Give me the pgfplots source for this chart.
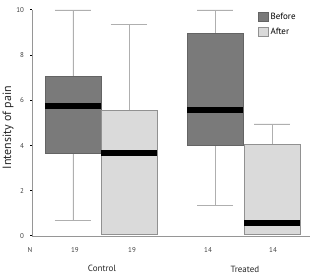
\documentclass[border=0pt]{standalone}
\usepackage{pgfplots}
\pgfplotsset{compat=1.18}
\usepgfplotslibrary{statistics}
\usepackage{fontspec}
\setmainfont{PT Sans}
\definecolor{darkbox}{RGB}{122,122,122}
\definecolor{darkedge}{RGB}{100,100,100}
\definecolor{lightbox}{RGB}{218,218,218}
\definecolor{lightedge}{RGB}{145,145,145}
\definecolor{whisk}{RGB}{175,175,175}
\definecolor{axgray}{RGB}{150,150,150}
\begin{document}
\begin{tikzpicture}
\path[use as bounding box] (0,0) rectangle (311pt,276pt);
\begin{axis}[
  at={(32pt,40pt)}, anchor=south west,
  scale only axis, width=278pt, height=226pt,
  xmin=0, xmax=278, ymin=0, ymax=10,
  clip=false,
  axis x line=bottom, axis y line=left,
  axis line style={-, axgray, line width=0.6pt},
  xtick=\empty,
  ytick={0,2,4,6,8,10},
  tick align=outside, major tick length=1.5pt,
  tick style={black, line width=1pt},
  yticklabel style={font=\scriptsize, xshift=-3pt, text=black!75},
  /pgf/number format/assume math mode=true,
  ylabel={Intensity of pain},
  ylabel style={font=\fontsize{12}{14}\selectfont, text=black!85,
    at={(axis description cs:-0.086,0.48)}, anchor=center},
  legend style={at={(rel axis cs:0.812,0.995)}, anchor=north west, draw=none, fill=none,
    font=\small, row sep=3pt, inner sep=0pt},
  legend cell align=left,
  legend image code/.code={\fill[#1] (0pt,-4.5pt) rectangle (10pt,4.5pt);},
  boxplot/draw direction=y,
  boxplot/box extend=56,
  boxplot/whisker extend=36,
  boxplot/every whisker/.style={whisk, line width=0.7pt},
  boxplot/every median/.style={black, line width=6pt},
]
% Control, before
\addplot+[boxplot prepared={lower whisker=0.7, lower quartile=3.65, median=5.75,
  upper quartile=7.05, upper whisker=10, draw position=41},
  draw=darkedge, fill=darkbox, mark=none, line width=0.6pt]
  coordinates {};
% Control, after
\addplot+[boxplot prepared={lower whisker=0.07, lower quartile=0.07, median=3.68,
  upper quartile=5.57, upper whisker=9.37, draw position=97},
  draw=lightedge, fill=lightbox, mark=none, line width=0.6pt]
  coordinates {};
% Treated, before
\addplot+[boxplot prepared={lower whisker=1.37, lower quartile=4.03, median=5.57,
  upper quartile=8.97, upper whisker=10, draw position=183},
  draw=darkedge, fill=darkbox, mark=none, line width=0.6pt]
  coordinates {};
% Treated, after
\addplot+[boxplot prepared={lower whisker=0.07, lower quartile=0.07, median=0.59,
  upper quartile=4.07, upper whisker=4.96, draw position=240},
  draw=lightedge, fill=lightbox, mark=none, line width=0.6pt]
  coordinates {};
\legend{Before, After}
% group sizes and group names
\node[font=\scriptsize, text=black!75] at (axis cs:-2,-0.6) {N};
\node[font=\scriptsize, text=black!75] at (axis cs:43,-0.6) {19};
\node[font=\scriptsize, text=black!75] at (axis cs:100,-0.6) {19};
\node[font=\scriptsize, text=black!75] at (axis cs:176,-0.6) {14};
\node[font=\scriptsize, text=black!75] at (axis cs:241,-0.6) {14};
\node[font=\small, text=black!85] at (axis cs:70,-1.42) {Control};
\node[font=\small, text=black!85] at (axis cs:213,-1.5) {Treated};
\end{axis}
\end{tikzpicture}
\end{document}
